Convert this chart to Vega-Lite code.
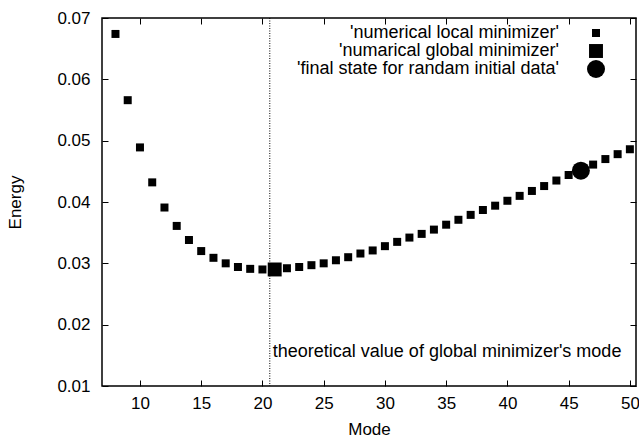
{
  "$schema": "https://vega.github.io/schema/vega-lite/v6.json",
  "description": "Energy of numerical minimizers against mode, gnuplot style.",
  "background": "white",
  "autosize": "none",
  "padding": {"left": 102, "top": 18, "right": 3, "bottom": 53},
  "width": 534,
  "height": 368,
  "datasets": {
    "local": [
      {"mode": 8, "energy": 0.0674},
      {"mode": 9, "energy": 0.0566},
      {"mode": 10, "energy": 0.0489},
      {"mode": 11, "energy": 0.0432},
      {"mode": 12, "energy": 0.0391},
      {"mode": 13, "energy": 0.0361},
      {"mode": 14, "energy": 0.0338},
      {"mode": 15, "energy": 0.0320},
      {"mode": 16, "energy": 0.0309},
      {"mode": 17, "energy": 0.0300},
      {"mode": 18, "energy": 0.0294},
      {"mode": 19, "energy": 0.0291},
      {"mode": 20, "energy": 0.0290},
      {"mode": 21, "energy": 0.0290},
      {"mode": 22, "energy": 0.0292},
      {"mode": 23, "energy": 0.0294},
      {"mode": 24, "energy": 0.0297},
      {"mode": 25, "energy": 0.0300},
      {"mode": 26, "energy": 0.0305},
      {"mode": 27, "energy": 0.0310},
      {"mode": 28, "energy": 0.0316},
      {"mode": 29, "energy": 0.0321},
      {"mode": 30, "energy": 0.0328},
      {"mode": 31, "energy": 0.0335},
      {"mode": 32, "energy": 0.0342},
      {"mode": 33, "energy": 0.0348},
      {"mode": 34, "energy": 0.0355},
      {"mode": 35, "energy": 0.0363},
      {"mode": 36, "energy": 0.0371},
      {"mode": 37, "energy": 0.0379},
      {"mode": 38, "energy": 0.0387},
      {"mode": 39, "energy": 0.0394},
      {"mode": 40, "energy": 0.0402},
      {"mode": 41, "energy": 0.0410},
      {"mode": 42, "energy": 0.0418},
      {"mode": 43, "energy": 0.0426},
      {"mode": 44, "energy": 0.0435},
      {"mode": 45, "energy": 0.0444},
      {"mode": 46, "energy": 0.0452},
      {"mode": 47, "energy": 0.0461},
      {"mode": 48, "energy": 0.0470},
      {"mode": 49, "energy": 0.0478},
      {"mode": 50, "energy": 0.0486}
    ],
    "global": [
      {"mode": 21, "energy": 0.0290}
    ],
    "final": [
      {"mode": 46, "energy": 0.0451}
    ],
    "theory": [
      {"mode": 20.6, "energy": 0.0155, "note": "theoretical value of global minimizer's mode"}
    ]
  },
  "layer": [
    {
      "data": {"name": "theory"},
      "mark": {"type": "rule", "color": "black", "strokeWidth": 1, "strokeDash": [1, 1.5]},
      "encoding": {
        "x": {"field": "mode", "type": "quantitative", "axis": null}
      }
    },
    {
      "data": {"name": "local"},
      "mark": {"type": "point", "shape": "square", "filled": true, "color": "black", "opacity": 1},
      "encoding": {
        "x": {
          "field": "mode",
          "type": "quantitative",
          "scale": {"domain": [6.9, 50.5], "nice": false, "zero": false},
          "axis": {"orient": "bottom", "values": [10, 15, 20, 25, 30, 35, 40, 45, 50], "title": "Mode", "labelPadding": 15, "titlePadding": 10}
        },
        "y": {
          "field": "energy",
          "type": "quantitative",
          "scale": {"domain": [0.01, 0.07], "nice": false, "zero": false},
          "axis": {"orient": "left", "values": [0.01, 0.02, 0.03, 0.04, 0.05, 0.06, 0.07], "format": ".2f", "title": "Energy", "labelPadding": 18, "titlePadding": 32}
        },
        "shape": {
          "datum": "'numerical local minimizer'",
          "type": "nominal",
          "scale": {
            "domain": ["'numerical local minimizer'", "'numarical global minimizer'", "'final state for randam initial data'"],
            "range": ["square", "square", "circle"]
          },
          "legend": {
            "orient": "none",
            "legendX": 485,
            "legendY": 6,
            "title": null,
            "padding": 0,
            "gridAlign": "all",
            "rowPadding": 0,
            "labelAlign": "right",
            "labelOffset": -46,
            "labelFontSize": 18,
            "labelColor": "black",
            "labelLimit": 400,
            "symbolFillColor": "black",
            "symbolStrokeColor": "black",
            "symbolStrokeWidth": 0,
            "symbolOpacity": 1
          }
        },
        "size": {
          "datum": "'numerical local minimizer'",
          "type": "nominal",
          "scale": {
            "type": "point",
            "domain": ["'numerical local minimizer'", "'numarical global minimizer'", "'final state for randam initial data'"],
            "range": [64, 324],
            "padding": 0
          },
          "legend": {
            "orient": "none",
            "legendX": 485,
            "legendY": 6,
            "title": null,
            "padding": 0,
            "gridAlign": "all",
            "rowPadding": 0,
            "labelAlign": "right",
            "labelOffset": -46,
            "labelFontSize": 18,
            "labelColor": "black",
            "labelLimit": 400,
            "symbolFillColor": "black",
            "symbolStrokeColor": "black",
            "symbolStrokeWidth": 0,
            "symbolOpacity": 1
          }
        }
      }
    },
    {
      "data": {"name": "global"},
      "mark": {"type": "point", "shape": "square", "filled": true, "color": "black", "opacity": 1},
      "encoding": {
        "x": {"field": "mode", "type": "quantitative", "axis": null},
        "y": {"field": "energy", "type": "quantitative", "axis": null},
        "shape": {"datum": "'numarical global minimizer'", "type": "nominal"},
        "size": {"datum": "'numarical global minimizer'", "type": "nominal"}
      }
    },
    {
      "data": {"name": "final"},
      "mark": {"type": "point", "shape": "circle", "filled": true, "color": "black", "opacity": 1},
      "encoding": {
        "x": {"field": "mode", "type": "quantitative", "axis": null},
        "y": {"field": "energy", "type": "quantitative", "axis": null},
        "shape": {"datum": "'final state for randam initial data'", "type": "nominal"},
        "size": {"datum": "'final state for randam initial data'", "type": "nominal"}
      }
    },
    {
      "data": {"name": "theory"},
      "mark": {"type": "text", "align": "left", "baseline": "middle", "dx": 3, "fontSize": 18, "color": "black"},
      "encoding": {
        "x": {"field": "mode", "type": "quantitative", "axis": {"orient": "top", "values": [10, 15, 20, 25, 30, 35, 40, 45, 50], "labels": false, "title": null}},
        "y": {"field": "energy", "type": "quantitative", "axis": {"orient": "right", "values": [0.01, 0.02, 0.03, 0.04, 0.05, 0.06, 0.07], "labels": false, "title": null}},
        "text": {"field": "note"}
      }
    }
  ],
  "resolve": {"axis": {"x": "independent", "y": "independent"}},
  "config": {
    "font": "Liberation Sans",
    "view": {"stroke": "black", "strokeWidth": 1.5},
    "axis": {
      "domain": false,
      "grid": false,
      "ticks": true,
      "tickSize": -6,
      "tickColor": "black",
      "tickWidth": 1,
      "labelFontSize": 17,
      "labelColor": "black",
      "labelFont": "Liberation Sans",
      "titleFontSize": 17,
      "titleFontWeight": "normal",
      "titleColor": "black",
      "titleFont": "Liberation Sans"
    }
  }
}
